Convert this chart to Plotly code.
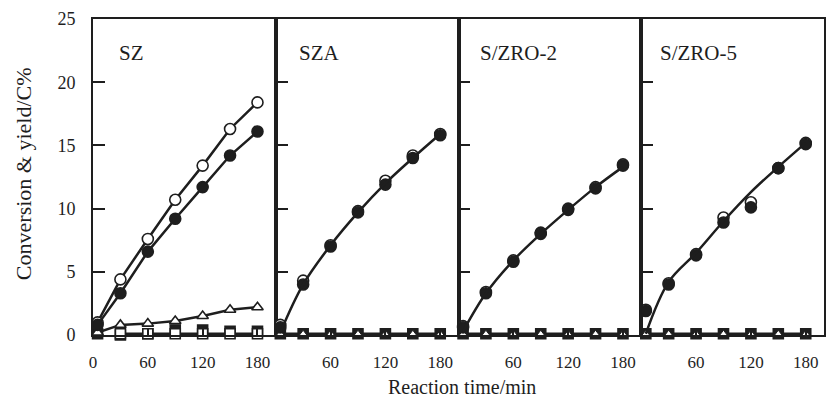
import plotly.graph_objects as go

# ---------------- data ----------------
times = [5, 30, 60, 90, 120, 150, 180]
panel_names = ["SZ", "SZA", "S/ZRO-2", "S/ZRO-5"]
x_tick_vals = [0, 60, 120, 180]
y_tick_vals = [0, 5, 10, 15, 20, 25]

# SZ
sz_open_circle = [1.0, 4.4, 7.6, 10.7, 13.4, 16.3, 18.4]
sz_filled_circle = [0.8, 3.3, 6.6, 9.2, 11.7, 14.2, 16.1]
sz_triangle = [0.2, 0.8, 0.9, 1.1, 1.5, 2.0, 2.2]
sz_filled_square = [0.1, 0.0, 0.1, 0.4, 0.4, 0.3, 0.3]
sz_open_square = [None, 0.1, 0.1, 0.1, 0.1, 0.1, 0.1]

# SZA
sza_open_circle = [0.8, 4.3, 7.1, 9.8, 12.2, 14.2, 15.9]
sza_filled_circle = [0.6, 4.0, 7.0, 9.7, 11.9, 14.0, 15.8]
sza_fit = [0.2, 4.0, 7.1, 9.7, 12.0, 14.0, 15.9]
sza_square = [0.1, 0.1, 0.1, 0.1, 0.1, 0.1, 0.1]
sza_triangle = [0.1, 0.1, 0.1, 0.1, 0.1, 0.1, 0.1]

# S/ZRO-2
zro2_open_circle = [0.7, 3.4, 5.9, 8.1, 10.0, 11.7, 13.5]
zro2_filled_circle = [0.6, 3.3, 5.8, 8.0, 9.9, 11.6, 13.4]
zro2_fit = [0.3, 3.3, 5.9, 8.0, 9.9, 11.7, 13.3]
zro2_square = [0.1, 0.1, 0.1, 0.1, 0.1, 0.1, 0.1]
zro2_triangle = [0.1, 0.1, 0.1, 0.1, 0.1, 0.1, 0.1]

# S/ZRO-5
zro5_open_circle = [2.0, 4.1, 6.4, 9.3, 10.5, 13.2, 15.2]
zro5_filled_circle = [1.9, 4.0, 6.3, 8.9, 10.1, 13.2, 15.1]
zro5_fit = [0.1, 4.2, 6.5, 9.0, 11.3, 13.3, 15.2]
zro5_square = [0.1, 0.1, 0.1, 0.1, 0.1, 0.1, 0.1]
zro5_triangle = [0.1, 0.1, 0.1, 0.1, 0.1, 0.1, 0.1]

# ---------------- styling ----------------
INK = "#1e1e1e"
FONT = "Liberation Serif"
LW = 2.5

fig = go.Figure()


def add(i, y, mode, symbol=None, fill=INK, size=11, shape="linear", lw=LW, mlw=1.6):
    ax = "" if i == 1 else str(i)
    kw = dict(x=times, y=y, mode=mode, xaxis="x" + ax, yaxis="y" + ax,
              showlegend=False, cliponaxis=False, hoverinfo="skip")
    if "lines" in mode:
        kw["line"] = dict(color=INK, width=lw, shape=shape)
    if "markers" in mode:
        kw["marker"] = dict(symbol=symbol, size=size, color=fill,
                            line=dict(color=INK, width=mlw))
    fig.add_trace(go.Scatter(**kw))


# Panel 1: SZ
add(1, sz_filled_square, "markers", "square", INK, 10)
add(1, sz_open_square, "lines+markers", "square", "white", 10)
add(1, sz_triangle, "lines+markers", "triangle-up", "white", 10)
add(1, sz_open_circle, "lines+markers", "circle", "white", 11)
add(1, sz_filled_circle, "lines+markers", "circle", INK, 11)

# Panels 2-4
others = [
    (2, sza_square, sza_triangle, sza_open_circle, sza_filled_circle, sza_fit),
    (3, zro2_square, zro2_triangle, zro2_open_circle, zro2_filled_circle, zro2_fit),
    (4, zro5_square, zro5_triangle, zro5_open_circle, zro5_filled_circle, zro5_fit),
]
for i, sq, tri, oc, fc, fit in others:
    add(i, sq, "lines+markers", "square", INK, 10)
    add(i, tri, "markers", "triangle-up", "white", 7, mlw=1)
    add(i, oc, "markers", "circle", "white", 11)
    add(i, fc, "markers", "circle", INK, 11)
    add(i, fit, "lines", shape="spline")

layout = dict(
    width=829, height=397,
    margin=dict(l=93, r=3, t=19, b=62),
    paper_bgcolor="white", plot_bgcolor="white",
    font=dict(family=FONT, size=17, color=INK),
    annotations=[],
)

for i in range(1, 5):
    ax = "" if i == 1 else str(i)
    tv = x_tick_vals if i == 1 else x_tick_vals[1:]
    layout["xaxis" + ax] = dict(
        domain=[(i - 1) / 4, i / 4], range=[0, 200], anchor="y" + ax,
        showline=True, mirror=True, linecolor=INK, linewidth=1.6,
        ticks="inside", ticklen=7, tickwidth=1.6, tickcolor=INK,
        tickvals=tv, ticktext=[str(v) for v in tv],
        showgrid=False, zeroline=False, fixedrange=True,
        tickfont=dict(family=FONT, size=17, color=INK),
        ticklabelstandoff=11,
    )
    layout["yaxis" + ax] = dict(
        domain=[0, 1], range=[0, 25], anchor="x" + ax,
        showline=True, mirror=True, linecolor=INK, linewidth=1.6,
        ticks="inside", ticklen=12, tickwidth=1.6, tickcolor=INK,
        tickvals=y_tick_vals, showticklabels=(i == 1),
        showgrid=False, zeroline=False, fixedrange=True,
        tickfont=dict(family=FONT, size=18, color=INK),
        ticklabelstandoff=12,
    )

label_x = [0.13, 0.115, 0.105, 0.09]
for i, name in enumerate(panel_names, start=1):
    ax = "x" if i == 1 else "x" + str(i)
    layout["annotations"].append(dict(
        text=name, xref=ax + " domain", yref="paper", x=label_x[i - 1], y=0.892,
        xanchor="left", yanchor="middle", showarrow=False,
        font=dict(family=FONT, size=21, color=INK)))

layout["annotations"].append(dict(
    text="Reaction time/min", xref="paper", yref="paper", x=0.505, y=-0.165,
    xanchor="center", yanchor="middle", showarrow=False,
    font=dict(family=FONT, size=20, color=INK)))
layout["annotations"].append(dict(
    text="Conversion &amp; yield/C%", xref="paper", yref="paper", x=-0.094, y=0.51,
    xanchor="center", yanchor="middle", textangle=-90, showarrow=False,
    font=dict(family=FONT, size=22, color=INK)))

fig.update_layout(**layout)
fig.write_html("out.html")
